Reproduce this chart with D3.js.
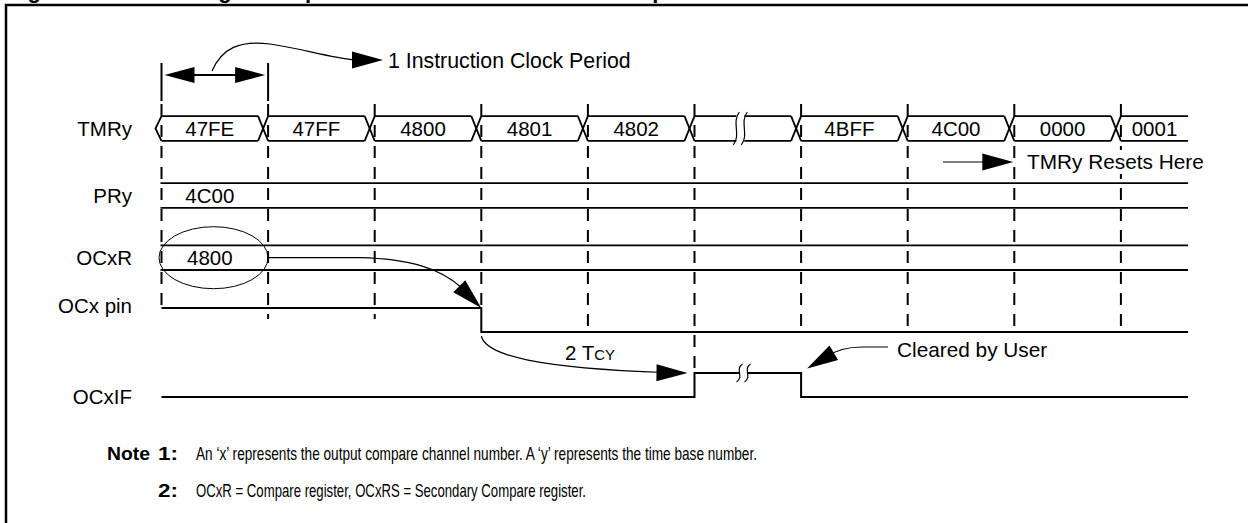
<!DOCTYPE html>
<html>
<head>
<meta charset="utf-8">
<script src="https://cdn.jsdelivr.net/npm/d3@7"></script>
<style>
  html, body { margin: 0; padding: 0; background: #fff; }
  svg { display: block; font-family: "Liberation Sans", Arial, Helvetica, sans-serif; }
</style>
</head>
<body>
<div id="chart"></div>
<script>
// ---- data (times are in instruction clock cycles) ----
const rowNames = ["TMRy", "PRy", "OCxR", "OCx pin", "OCxIF"];
const tmrValues = ["47FE", "47FF", "4800", "4801", "4802", "", "4BFF", "4C00", "0000", "0001"];
const prValue = "4C00";
const ocrValue = "4800";
const ocxPin = [[0, 1], [3, 1], [3, 0], [9.63, 0]];
const ocxIF = [[0, 0], [5, 0], [5, 1], [6, 1], [6, 0], [9.63, 0]];
const endCycle = 9.63;
const tmrBreak = 5.43;
const ifBreak = 5.46;
const matchCycle = 3;
const resetCycle = 8;
const flagSetCycle = 5;
const flagClearCycle = 6;
const titleParts = ["Figure 16-4:", "Single Compare Mode: Set OCx Low on Compare Match Event"];
const notes = [
  ["Note", "1:", "An \u2018x\u2019 represents the output compare channel number. A \u2018y\u2019 represents the time base number."],
  ["", "2:", "OCxR = Compare register, OCxRS = Secondary Compare register."]
];

const W = 1248, H = 523;
const svg = d3.select("#chart").append("svg")
    .attr("width", W)
    .attr("height", H);

const x = d3.scaleLinear().domain([0, 10]).range([161.5, 1227.5]);
const xEnd = x(endCycle);

// row geometry
const rowY = { "TMRy": 128.5, "PRy": 195.5, "OCxR": 257.7, "OCx pin": 306, "OCxIF": 397 };
const busHalf = 12.3;
const pinLevel = d3.scaleLinear().domain([0, 1]).range([332, 308]);
const ifLevel = d3.scaleLinear().domain([0, 1]).range([397, 373]);

const fontSize = 20.5;
const ink = "#000";

// ---- frame + clipped title ----
svg.append("path")
    .attr("d", `M6,523 L6,5 L${W},5`)
    .attr("fill", "none").attr("stroke", ink).attr("stroke-width", 2.5);

svg.append("text").attr("x", 8).attr("y", -2)
    .style("font-size", "22px").style("font-weight", "bold").text(titleParts[0]);
svg.append("text").attr("x", 184).attr("y", -2)
    .style("font-size", "22px").style("font-weight", "bold").text(titleParts[1]);

// ---- dashed clock edges ----
const dashEnds = [308, 319, 319, 308, 332, 373, 332, 332, 332, 332];
svg.append("g")
    .selectAll("line")
    .data(d3.range(10))
    .enter()
    .append("line")
    .attr("x1", d => x(d)).attr("x2", d => x(d))
    .attr("y1", 104).attr("y2", d => dashEnds[d])
    .attr("stroke", ink).attr("stroke-width", 2)
    .attr("stroke-dasharray", "12,9");

// ---- row labels ----
svg.append("g")
    .selectAll("text")
    .data(rowNames)
    .enter()
    .append("text")
    .attr("x", 132)
    .attr("y", d => rowY[d] + 7.2)
    .attr("text-anchor", "end")
    .style("font-size", fontSize + "px")
    .text(d => d);

// ---- TMRy bus ----
const busTop = rowY["TMRy"] - busHalf, busBot = rowY["TMRy"] + busHalf;
const bus = svg.append("g").attr("fill", "none").attr("stroke", ink).attr("stroke-width", 1.8);
tmrValues.forEach((v, i) => {
    const a = x(i);
    const b = i === tmrValues.length - 1 ? xEnd : x(i + 1) - 10;
    bus.append("line").attr("x1", a).attr("x2", b).attr("y1", busTop).attr("y2", busTop);
    bus.append("line").attr("x1", a).attr("x2", b).attr("y1", busBot).attr("y2", busBot);
    if (i === 0) {
        bus.append("path").attr("d", `M${a},${busTop} L${a - 6},${rowY["TMRy"]} L${a},${busBot}`);
    } else {
        bus.append("line").attr("x1", a - 10).attr("x2", a).attr("y1", busTop).attr("y2", busBot);
        bus.append("line").attr("x1", a - 10).attr("x2", a).attr("y1", busBot).attr("y2", busTop);
    }
    if (v) {
        svg.append("text")
            .attr("x", (a + b) / 2)
            .attr("y", rowY["TMRy"] + 7.2)
            .attr("text-anchor", "middle")
            .style("font-size", fontSize + "px")
            .text(v);
    }
});

function squiggle(g, cx, y1, y2) {
    const h = y2 - y1;
    g.append("path")
        .attr("d", `M${cx + 3},${y1} C${cx - 5},${y1 + h * 0.3} ${cx + 5},${y2 - h * 0.3} ${cx - 3},${y2}`)
        .attr("fill", "none").attr("stroke", ink).attr("stroke-width", 1.2);
}

// break in the bus
svg.append("rect")
    .attr("x", x(tmrBreak) - 4).attr("y", busTop - 3)
    .attr("width", 8).attr("height", busBot - busTop + 6)
    .attr("fill", "#fff");
squiggle(svg, x(tmrBreak) - 4, busTop - 4, busBot + 4);
squiggle(svg, x(tmrBreak) + 4, busTop - 4, busBot + 4);

// ---- PRy and OCxR registers ----
[["PRy", prValue], ["OCxR", ocrValue]].forEach(([row, val]) => {
    const yc = rowY[row];
    [yc - busHalf, yc + busHalf].forEach(yy => {
        svg.append("line")
            .attr("x1", x(0) - 1).attr("x2", xEnd)
            .attr("y1", yy).attr("y2", yy)
            .attr("stroke", ink).attr("stroke-width", 1.8);
    });
    svg.append("text")
        .attr("x", (x(0) + x(1) - 10) / 2)
        .attr("y", yc + 7.2)
        .attr("text-anchor", "middle")
        .style("font-size", fontSize + "px")
        .text(val);
});

// ellipse marking the compare value
svg.append("ellipse")
    .attr("cx", (x(0) + x(1)) / 2 - 1.3)
    .attr("cy", rowY["OCxR"])
    .attr("rx", 54.5).attr("ry", 31)
    .attr("fill", "none").attr("stroke", ink).attr("stroke-width", 1);

// ---- digital waveforms ----
svg.append("path")
    .datum(ocxPin)
    .attr("d", d3.line().x(d => x(d[0])).y(d => pinLevel(d[1])))
    .attr("fill", "none").attr("stroke", ink).attr("stroke-width", 2);

svg.append("path")
    .datum(ocxIF)
    .attr("d", d3.line().x(d => x(d[0])).y(d => ifLevel(d[1])))
    .attr("fill", "none").attr("stroke", ink).attr("stroke-width", 2);

svg.append("rect")
    .attr("x", x(ifBreak) - 4).attr("y", ifLevel(1) - 3)
    .attr("width", 8).attr("height", 6)
    .attr("fill", "#fff");
squiggle(svg, x(ifBreak) - 4, ifLevel(1) - 9, ifLevel(1) + 9);
squiggle(svg, x(ifBreak) + 4, ifLevel(1) - 9, ifLevel(1) + 9);

// ---- arrows ----
function head(g, tip, from, len, half) {
    const dx = tip[0] - from[0], dy = tip[1] - from[1];
    const L = Math.hypot(dx, dy), ux = dx / L, uy = dy / L;
    const bx = tip[0] - ux * len, by = tip[1] - uy * len;
    g.append("path")
        .attr("d", `M${tip[0]},${tip[1]} L${bx - uy * half},${by + ux * half} L${bx + uy * half},${by - ux * half} Z`)
        .attr("fill", ink).attr("stroke", "none");
}
const ann = svg.append("g");

// 1 instruction clock period
[x(0), x(1)].forEach(xx => {
    ann.append("line").attr("x1", xx).attr("x2", xx).attr("y1", 63).attr("y2", 101)
        .attr("stroke", ink).attr("stroke-width", 2);
});
ann.append("line").attr("x1", x(0) + 20).attr("x2", x(1) - 20).attr("y1", 75).attr("y2", 75)
    .attr("stroke", ink).attr("stroke-width", 2);
head(ann, [x(0) + 3, 75], [x(1), 75], 30, 8);
head(ann, [x(1) - 3, 75], [x(0), 75], 30, 8);

const p1 = d3.path();
p1.moveTo(212, 71);
p1.bezierCurveTo(222, 48, 240, 40, 270, 44);
p1.bezierCurveTo(300, 48, 330, 58, 356, 60);
ann.append("path").attr("d", p1.toString()).attr("fill", "none").attr("stroke", ink).attr("stroke-width", 1.2);
head(ann, [383, 60], [350, 60], 31, 8.5);
ann.append("text").attr("x", 388).attr("y", 67.5).style("font-size", "21.3px")
    .text("1 Instruction Clock Period");

// compare match -> pin goes low
const p2 = d3.path();
p2.moveTo(x(1), rowY["OCxR"]);
p2.lineTo(360, rowY["OCxR"]);
p2.bezierCurveTo(410, 259, 440, 268, 462, 288);
ann.append("path").attr("d", p2.toString()).attr("fill", "none").attr("stroke", ink).attr("stroke-width", 1.2);
head(ann, [x(matchCycle), pinLevel(1)], [455, 282], 31, 8.5);

// TMRy resets here (text sits on a white patch, hiding the dash behind it)
ann.append("line").attr("x1", 943).attr("x2", 990).attr("y1", 162).attr("y2", 162)
    .attr("stroke", ink).attr("stroke-width", 1.2);
head(ann, [x(resetCycle) - 1, 162], [943, 162], 31, 8.5);
ann.append("rect").attr("x", 1025).attr("y", 150).attr("width", 182).attr("height", 24).attr("fill", "#fff");
ann.append("text").attr("x", 1027).attr("y", 169.3).style("font-size", "20.8px")
    .text("TMRy Resets Here");

// 2 TCY
const p3 = d3.path();
p3.moveTo(x(matchCycle), 336);
p3.bezierCurveTo(486, 356, 540, 368, 665, 372.5);
ann.append("path").attr("d", p3.toString()).attr("fill", "none").attr("stroke", ink).attr("stroke-width", 1.2);
head(ann, [x(flagSetCycle) - 7, 373], [640, 372.5], 31, 8.5);
const t2 = ann.append("text").attr("x", 565).attr("y", 360).style("font-size", fontSize + "px");
t2.append("tspan").text("2 T");
t2.append("tspan").style("font-size", "15px").text("CY");

// cleared by user
const p4 = d3.path();
p4.moveTo(888, 347);
p4.lineTo(862, 347);
p4.bezierCurveTo(848, 347, 836, 350, 826, 357);
ann.append("path").attr("d", p4.toString()).attr("fill", "none").attr("stroke", ink).attr("stroke-width", 1.2);
head(ann, [x(flagClearCycle) + 6, 368.5], [835, 352], 31, 8.5);
ann.append("text").attr("x", 897).attr("y", 357).style("font-size", "20.8px")
    .text("Cleared by User");

// ---- notes ----
const noteW = [561, 390];
notes.forEach((n, i) => {
    const yy = 460 + i * 37;
    if (n[0]) {
        svg.append("text").attr("x", 107).attr("y", yy)
            .style("font-size", "19px").style("font-weight", "bold")
            .attr("textLength", 43).attr("lengthAdjust", "spacingAndGlyphs").text(n[0]);
    }
    svg.append("text").attr("x", 158).attr("y", yy)
        .style("font-size", "19px").style("font-weight", "bold")
        .attr("textLength", 20).attr("lengthAdjust", "spacingAndGlyphs").text(n[1]);
    svg.append("text").attr("x", 196).attr("y", yy)
        .style("font-size", "19px")
        .attr("textLength", noteW[i]).attr("lengthAdjust", "spacingAndGlyphs").text(n[2]);
});
</script>
</body>
</html>
